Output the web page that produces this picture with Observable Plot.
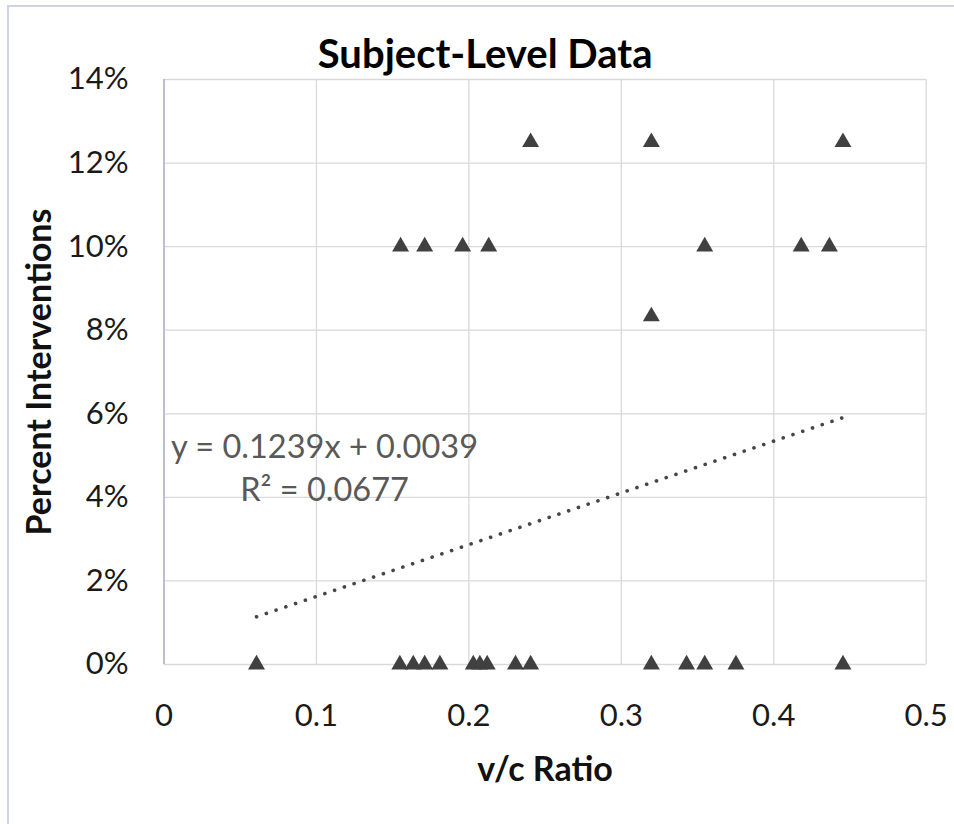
<!DOCTYPE html>
<html>
<head>
<meta charset="utf-8">
<script src="https://cdn.jsdelivr.net/npm/d3@7"></script>
<script src="https://cdn.jsdelivr.net/npm/@observablehq/plot@0.6"></script>
<style>
  html, body { margin: 0; padding: 0; background: #fff; }
  #wrap { position: relative; width: 954px; height: 824px; overflow: hidden; }
  #border { position: absolute; left: 7px; top: 5px; width: 960px; height: 840px;
            border-top: 2px solid #cfd2e3; border-left: 2px solid #cfd2e3; box-sizing: border-box; pointer-events: none; }
</style>
</head>
<body>
<div id="wrap"><div id="border"></div></div>
<script>
// ---- data ----
const title = "Subject-Level Data";
const xLabel = "v/c Ratio";
const yLabel = "Percent Interventions";
const vcRatio = [
  0.0607, 0.1547, 0.1635, 0.171, 0.181, 0.2029, 0.2072, 0.212, 0.2306, 0.2405, 0.3197, 0.3428, 0.3547, 0.3752, 0.4454,
  0.1552, 0.171, 0.1959, 0.213, 0.3547, 0.418, 0.4365,
  0.2405, 0.3197, 0.4454,
  0.3197
];
const pctInterventions = [
  0, 0, 0, 0, 0, 0, 0, 0, 0, 0, 0, 0, 0, 0, 0,
  0.10, 0.10, 0.10, 0.10, 0.10, 0.10, 0.10,
  0.125, 0.125, 0.125,
  0.0833
];
const trendSlope = 0.1239;
const trendIntercept = 0.0039;
const equationText = "y = 0.1239x + 0.0039";
const r2Text = "R² = 0.0677";
const xTicks = [0, 0.1, 0.2, 0.3, 0.4, 0.5];
const yTicks = [0, 0.02, 0.04, 0.06, 0.08, 0.10, 0.12, 0.14];

// ---- derived tables ----
const points = vcRatio.map((v, i) => ({x: v, y: pctInterventions[i]}));
const [xMin, xMax] = d3.extent(vcRatio);
const trend = [xMin, xMax].map(x => ({x, y: trendSlope * x + trendIntercept}));

const font = "Lato, 'Open Sans', sans-serif";

const chart = Plot.plot({
  width: 954,
  height: 824,
  marginLeft: 163.5,
  marginRight: 28.3,
  marginTop: 79,
  marginBottom: 160,
  style: {fontFamily: font, fontSize: "31px", color: "#1a1a1a", background: "transparent", overflow: "visible"},
  x: {domain: [0, 0.5]},
  y: {domain: [0, 0.14]},
  marks: [
    Plot.ruleX(xTicks.slice(1), {stroke: "#d9d9d9", strokeWidth: 1.3}),
    Plot.ruleY(yTicks, {stroke: "#d9d9d9", strokeWidth: 1.3}),
    Plot.ruleX([0], {stroke: "#bcbfd0", strokeWidth: 2}),
    Plot.axisX({ticks: xTicks, tickSize: 0, tickPadding: 39, label: null, fontSize: 31, tickFormat: d3.format("")}),
    Plot.axisY({ticks: yTicks, tickSize: 0, tickPadding: 35.5, label: null, fontSize: 31, tickFormat: d3.format(".0%")}),
    Plot.line(trend, {x: "x", y: "y", stroke: "#464646", strokeWidth: 3.6, strokeDasharray: "0.1 10.2", strokeLinecap: "round"}),
    Plot.dot(points, {x: "x", y: "y", symbol: "triangle", r: 6.3, fill: "#404040", stroke: "none"}),
    Plot.text([equationText], {x: 0.1053, y: 0.0519, fill: "#595959", fontSize: 32.5, textAnchor: "middle", lineAnchor: "middle"}),
    Plot.text([r2Text], {x: 0.1053, y: 0.0416, fill: "#595959", fontSize: 32.5, textAnchor: "middle", lineAnchor: "middle"}),
    Plot.text([title], {frameAnchor: "top", dx: -60, dy: -24, textAnchor: "middle", lineAnchor: "middle", fontWeight: "bold", fontSize: 40, fill: "#000"}),
    Plot.text([yLabel], {frameAnchor: "left", dx: -123.5, rotate: -90, textAnchor: "middle", lineAnchor: "middle", fontWeight: "bold", fontSize: 34, fill: "#111"}),
    Plot.text([xLabel], {frameAnchor: "bottom", dy: 106, textAnchor: "middle", lineAnchor: "middle", fontWeight: "bold", fontSize: 34, fill: "#111"})
  ]
});
document.getElementById("wrap").prepend(chart);
</script>
</body>
</html>
